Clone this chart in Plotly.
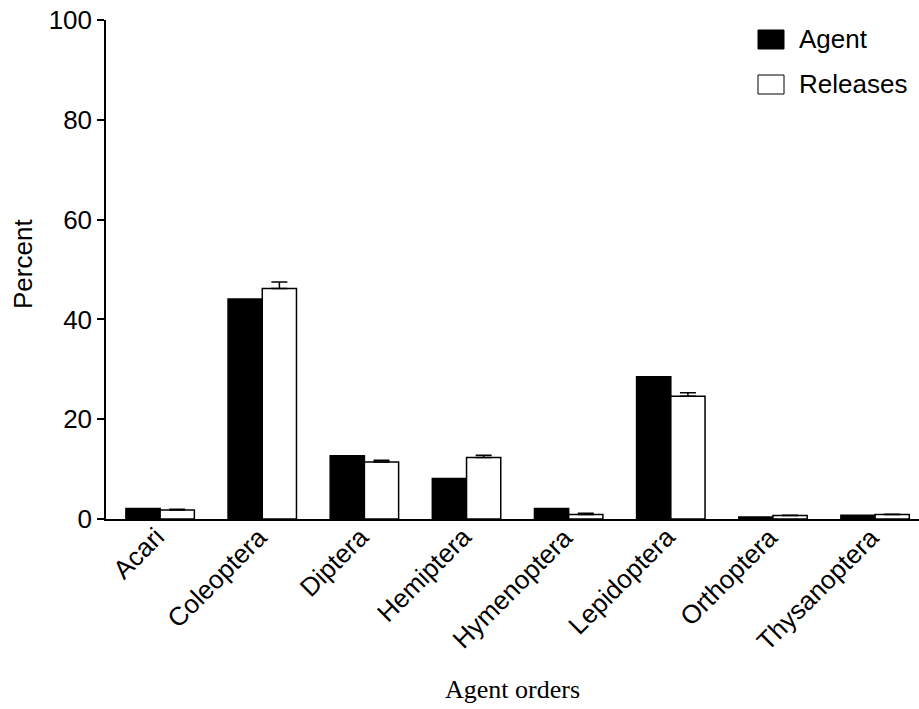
import plotly.graph_objects as go

categories = ["Acari", "Coleoptera", "Diptera", "Hemiptera", "Hymenoptera",
              "Lepidoptera", "Orthoptera", "Thysanoptera"]
agent = [2.1, 44.1, 12.7, 8.1, 2.1, 28.5, 0.4, 0.75]
releases = [1.8, 46.2, 11.4, 12.3, 0.9, 24.6, 0.7, 0.9]
releases_err = [0.15, 1.3, 0.35, 0.5, 0.25, 0.7, 0.05, 0.05]

PLOT_LEFT, PLOT_RIGHT = 106, 919
PLOT_TOP, PLOT_BOTTOM = 20, 519
PLOT_W = PLOT_RIGHT - PLOT_LEFT
PLOT_H = PLOT_BOTTOM - PLOT_TOP


def px(pixel_x):
    return (pixel_x - PLOT_LEFT) / PLOT_W


def py(pixel_y):
    return (PLOT_BOTTOM - pixel_y) / PLOT_H


fig = go.Figure()
fig.add_trace(go.Bar(
    name="Agent", x=categories, y=agent,
    marker=dict(color="black", line=dict(color="black", width=1.5)),
))
fig.add_trace(go.Bar(
    name="Releases", x=categories, y=releases,
    marker=dict(color="white", line=dict(color="black", width=1.5)),
    error_y=dict(type="data", symmetric=False, array=releases_err,
                 arrayminus=[0] * len(releases_err),
                 color="black", thickness=1.5, width=8),
))

# rotated category labels
for c in categories:
    fig.add_annotation(x=c, xref="x", yref="paper", y=py(519),
                       text=c, textangle=-45, showarrow=False,
                       xanchor="right", yanchor="top", xshift=13,
                       font=dict(family="Liberation Sans, Arial", size=26, color="black"))

# axis titles
fig.add_annotation(xref="paper", yref="paper", x=0.5, y=py(689),
                   text="Agent orders", showarrow=False,
                   xanchor="center", yanchor="middle",
                   font=dict(family="Liberation Serif, Times New Roman", size=26, color="black"))
fig.add_annotation(xref="paper", yref="paper", x=px(23), y=py(264),
                   text="Percent", textangle=-90, showarrow=False,
                   xanchor="center", yanchor="middle",
                   font=dict(family="Liberation Sans, Arial", size=26, color="black"))

# custom legend (larger swatches as in reference)
legend_items = [("Agent", "black"), ("Releases", "white")]
for i, (name, col) in enumerate(legend_items):
    y0 = 30 + i * 45
    fig.add_shape(type="rect", xref="paper", yref="paper",
                  x0=px(758), x1=px(784),
                  y0=py(y0 + 19), y1=py(y0),
                  fillcolor=col, line=dict(color="black", width=1))
    fig.add_annotation(xref="paper", yref="paper",
                       x=px(797), y=py(y0 + 9.5),
                       text=name, showarrow=False, xanchor="left", yanchor="middle",
                       font=dict(family="Liberation Sans, Arial", size=26, color="black"))

fig.update_layout(
    width=919, height=709,
    margin=dict(l=PLOT_LEFT, r=919 - PLOT_RIGHT, t=PLOT_TOP, b=709 - PLOT_BOTTOM),
    paper_bgcolor="white", plot_bgcolor="white",
    barmode="group", bargap=0.33, bargroupgap=0,
    showlegend=False,
    font=dict(family="Liberation Sans, Arial", size=26, color="black"),
    xaxis=dict(
        range=[-0.53, 7.43], showline=True, linecolor="black", linewidth=1.5,
        ticks="", showticklabels=False, showgrid=False, zeroline=False,
    ),
    yaxis=dict(
        range=[0, 100], tickvals=[0, 20, 40, 60, 80, 100],
        showline=True, linecolor="black", linewidth=1.5,
        ticks="outside", ticklen=7, tickwidth=1.5, tickcolor="black",
        showgrid=False, zeroline=False, tickfont=dict(size=26),
    ),
)

fig.write_html("out.html")
